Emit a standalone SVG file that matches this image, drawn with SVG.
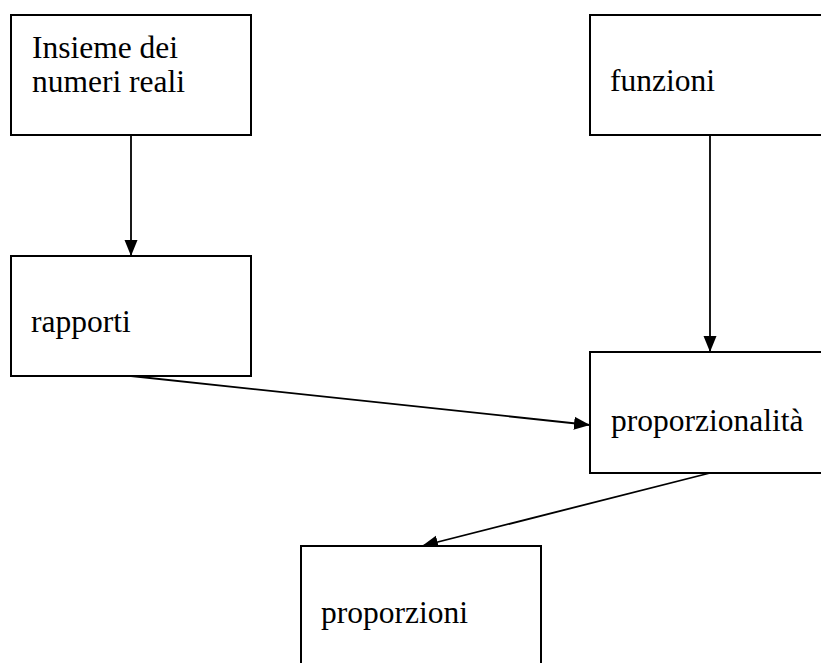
<svg xmlns="http://www.w3.org/2000/svg" width="821" height="663" viewBox="0 0 821 663">
<style>
.box{fill:#fff;stroke:#000;stroke-width:2}
.conn{stroke:#000;stroke-width:1.8;fill:none}
</style>
<defs>
<marker id="ah" markerUnits="userSpaceOnUse" markerWidth="16" markerHeight="14" refX="16" refY="7" orient="auto">
<path d="M0,0.5 L16,7 L0,13.5 Z" fill="#000"/>
</marker>
</defs>
<rect width="821" height="663" fill="#fff"/>
<g id="connectors">
<line class="conn" x1="131" y1="135" x2="131" y2="256" marker-end="url(#ah)"/>
<line class="conn" x1="710" y1="135" x2="710" y2="352" marker-end="url(#ah)"/>
<line class="conn" x1="131" y1="376" x2="590" y2="425" marker-end="url(#ah)"/>
<line class="conn" x1="710" y1="473" x2="422" y2="546" marker-end="url(#ah)"/>
</g>
<g font-family="'Liberation Serif', 'Times New Roman', serif" font-size="31.5" fill="#000">
<g id="node-insieme">
<rect class="box" x="11" y="15" width="240" height="120"/>
<text x="32" y="58">Insieme dei</text>
<text x="32" y="92">numeri reali</text>
</g>
<g id="node-funzioni">
<rect class="box" x="590" y="15" width="240" height="120"/>
<text x="610" y="91">funzioni</text>
</g>
<g id="node-rapporti">
<rect class="box" x="11" y="256" width="240" height="120"/>
<text x="31" y="332">rapporti</text>
</g>
<g id="node-proporzionalita">
<rect class="box" x="590" y="352" width="240" height="121"/>
<text x="611" y="431">proporzionalità</text>
</g>
<g id="node-proporzioni">
<rect class="box" x="301" y="546" width="240" height="130"/>
<text x="321" y="623">proporzioni</text>
</g>
</g>
</svg>
